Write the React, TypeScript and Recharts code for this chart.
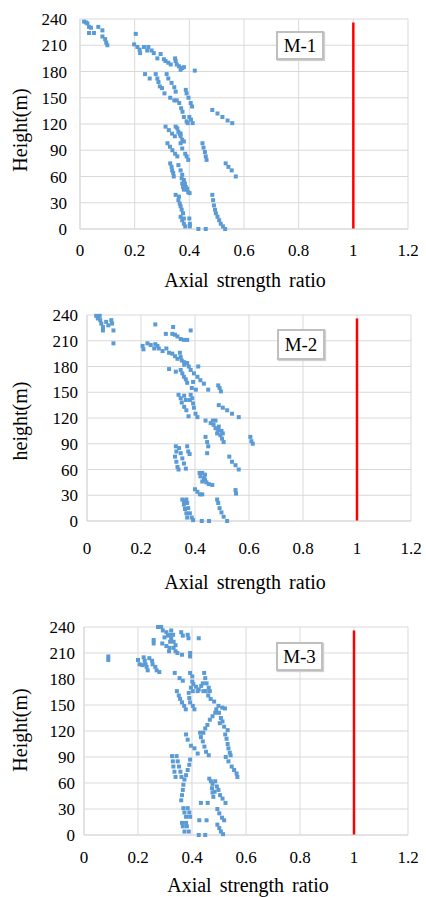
import React from "react";
import {
  CartesianGrid,
  ReferenceLine,
  Scatter,
  ScatterChart,
  XAxis,
  YAxis,
} from "recharts";

type Pt = [number, number];

// axial strength ratio vs height
const M1_POINTS: Pt[] = [
  [0.015, 237], [0.027, 235], [0.033, 231], [0.033, 224], [0.051, 224], [0.067, 231],
  [0.082, 227], [0.082, 220], [0.092, 217], [0.096, 213], [0.1, 210], [0.022, 236],
  [0.04, 230], [0.204, 223],
  [0.198, 211], [0.21, 208], [0.218, 205], [0.22, 201], [0.234, 208], [0.246, 204],
  [0.25, 208], [0.262, 204], [0.27, 201], [0.283, 195], [0.295, 200], [0.307, 194],
  [0.313, 192], [0.323, 190], [0.332, 188], [0.348, 195], [0.35, 192], [0.354, 188],
  [0.362, 186], [0.368, 182], [0.374, 184], [0.38, 185], [0.42, 181],
  [0.238, 177], [0.255, 172], [0.277, 177], [0.283, 172], [0.287, 168], [0.292, 163],
  [0.3, 161], [0.309, 155], [0.317, 177], [0.323, 172], [0.335, 167], [0.345, 162],
  [0.35, 157], [0.33, 150], [0.345, 147], [0.354, 147], [0.363, 144], [0.37, 138],
  [0.375, 134], [0.38, 128], [0.39, 123], [0.394, 121], [0.387, 159], [0.39, 155],
  [0.397, 150], [0.405, 144], [0.41, 140], [0.4, 128], [0.406, 125], [0.412, 121],
  [0.484, 136], [0.503, 132], [0.521, 128], [0.54, 124], [0.557, 121],
  [0.313, 117], [0.325, 113], [0.337, 109], [0.347, 106], [0.35, 117], [0.356, 115],
  [0.36, 111], [0.365, 109], [0.368, 106], [0.374, 102], [0.38, 100], [0.368, 109],
  [0.32, 98], [0.329, 94], [0.338, 90], [0.348, 86], [0.356, 83], [0.368, 98],
  [0.374, 92], [0.385, 86], [0.39, 83], [0.396, 79],
  [0.448, 98], [0.452, 93], [0.457, 88], [0.46, 83], [0.463, 79],
  [0.533, 75], [0.543, 71], [0.555, 67], [0.57, 60],
  [0.33, 75], [0.335, 71], [0.337, 67], [0.341, 64], [0.343, 60], [0.36, 73],
  [0.368, 67], [0.374, 62],
  [0.372, 58], [0.38, 56], [0.384, 52], [0.387, 48], [0.39, 45], [0.396, 42],
  [0.401, 41], [0.374, 52], [0.377, 48], [0.38, 45], [0.392, 46],
  [0.35, 39], [0.362, 37], [0.36, 33], [0.365, 29], [0.368, 26], [0.372, 22],
  [0.377, 18], [0.38, 12], [0.38, 6], [0.385, 3], [0.368, 14], [0.374, 10],
  [0.4, 12], [0.402, 6], [0.402, 3],
  [0.484, 39], [0.487, 33], [0.49, 27], [0.494, 22], [0.497, 18], [0.503, 14],
  [0.509, 10], [0.515, 6], [0.523, 3], [0.531, 0],
  [0.433, 0], [0.46, 0],
];

const M2_POINTS: Pt[] = [
  [0.034, 239], [0.047, 239], [0.04, 236], [0.049, 234], [0.053, 230], [0.059, 226],
  [0.059, 222], [0.071, 232], [0.079, 228], [0.09, 234], [0.093, 230], [0.098, 222],
  [0.098, 207],
  [0.253, 229], [0.319, 226], [0.292, 218], [0.316, 218], [0.326, 217], [0.335, 215],
  [0.347, 212], [0.359, 211], [0.371, 211], [0.384, 222],
  [0.206, 204], [0.209, 200], [0.224, 207], [0.236, 205], [0.253, 206], [0.249, 201],
  [0.261, 204], [0.266, 201], [0.28, 198], [0.294, 201], [0.304, 196], [0.316, 195],
  [0.326, 192], [0.335, 189], [0.344, 196], [0.347, 191], [0.351, 187], [0.36, 185],
  [0.366, 184], [0.371, 184], [0.36, 182], [0.377, 180], [0.412, 180],
  [0.304, 177], [0.329, 174], [0.347, 176], [0.353, 172], [0.359, 168], [0.366, 165],
  [0.371, 161], [0.393, 162], [0.384, 176], [0.396, 172], [0.409, 168], [0.42, 164],
  [0.433, 160], [0.449, 153], [0.388, 155], [0.403, 153], [0.486, 158], [0.491, 155],
  [0.496, 151],
  [0.339, 147], [0.347, 143], [0.351, 138], [0.36, 133], [0.368, 129], [0.376, 122],
  [0.36, 146], [0.366, 141], [0.384, 147], [0.39, 143], [0.393, 137], [0.396, 132],
  [0.402, 125], [0.409, 121], [0.381, 141],
  [0.488, 135], [0.503, 132], [0.519, 129], [0.537, 125], [0.562, 121],
  [0.439, 117], [0.458, 114], [0.466, 117], [0.476, 117], [0.469, 112], [0.476, 108],
  [0.486, 106], [0.482, 102], [0.494, 100], [0.5, 96], [0.506, 92], [0.488, 110],
  [0.498, 105], [0.503, 102],
  [0.439, 98], [0.445, 92], [0.449, 87], [0.445, 79], [0.605, 98], [0.609, 93],
  [0.614, 90],
  [0.329, 87], [0.331, 81], [0.326, 75], [0.331, 69], [0.335, 63], [0.339, 60],
  [0.341, 85], [0.347, 79], [0.353, 73], [0.359, 67], [0.366, 61], [0.371, 87],
  [0.375, 81], [0.38, 78],
  [0.527, 75], [0.537, 69], [0.55, 65], [0.562, 60],
  [0.417, 56], [0.427, 56], [0.437, 54], [0.42, 52], [0.433, 50], [0.427, 46],
  [0.442, 45], [0.451, 43], [0.464, 42], [0.437, 48],
  [0.4, 37], [0.409, 34], [0.418, 31], [0.427, 31], [0.55, 36], [0.552, 32],
  [0.353, 25], [0.359, 23], [0.359, 19], [0.363, 14], [0.368, 9], [0.371, 4],
  [0.368, 25], [0.371, 21], [0.375, 15], [0.381, 9], [0.388, 4], [0.393, 1],
  [0.482, 25], [0.486, 21], [0.491, 15], [0.498, 10], [0.506, 5], [0.519, 0],
  [0.425, 0], [0.452, 0],
];

const M3_POINTS: Pt[] = [
  [0.274, 240], [0.286, 240], [0.292, 236], [0.305, 234], [0.311, 230], [0.298, 228],
  [0.29, 221], [0.305, 218], [0.317, 216], [0.258, 225], [0.258, 221], [0.323, 236],
  [0.33, 231], [0.323, 227], [0.332, 223], [0.339, 219], [0.332, 216], [0.339, 212],
  [0.346, 210], [0.36, 234], [0.366, 230], [0.384, 231], [0.387, 227], [0.425, 227],
  [0.315, 212], [0.363, 208], [0.393, 210], [0.393, 206], [0.317, 231], [0.319, 223],
  [0.09, 206], [0.09, 202],
  [0.2, 202], [0.206, 197], [0.221, 205], [0.225, 201], [0.228, 197], [0.232, 194],
  [0.236, 190], [0.242, 204], [0.252, 201], [0.254, 197], [0.264, 194], [0.269, 190],
  [0.279, 188], [0.216, 196],
  [0.336, 187], [0.354, 181], [0.366, 178], [0.393, 187], [0.401, 183], [0.401, 177],
  [0.405, 174], [0.396, 170], [0.403, 166], [0.415, 171], [0.425, 168], [0.434, 172],
  [0.44, 175], [0.445, 187], [0.449, 181], [0.454, 175], [0.462, 170], [0.466, 166],
  [0.442, 166], [0.421, 166],
  [0.344, 166], [0.351, 161], [0.356, 157], [0.363, 153], [0.371, 149], [0.377, 145],
  [0.388, 164], [0.39, 158], [0.393, 153], [0.403, 149], [0.409, 145],
  [0.451, 166], [0.46, 161], [0.469, 157], [0.482, 154], [0.498, 149], [0.512, 147],
  [0.522, 146], [0.49, 145], [0.486, 141], [0.476, 137], [0.466, 133], [0.457, 127],
  [0.449, 123], [0.442, 118], [0.5, 141], [0.507, 135], [0.513, 131], [0.519, 125],
  [0.532, 121], [0.503, 129],
  [0.378, 116], [0.384, 110], [0.396, 103], [0.409, 100], [0.421, 94], [0.43, 118],
  [0.433, 113], [0.44, 108], [0.446, 102], [0.452, 96], [0.462, 92],
  [0.523, 116], [0.528, 111], [0.532, 105], [0.535, 100], [0.54, 95], [0.543, 92],
  [0.525, 90], [0.535, 85], [0.547, 79], [0.556, 75], [0.565, 71], [0.568, 67],
  [0.326, 91], [0.329, 85], [0.331, 79], [0.335, 73], [0.339, 67], [0.343, 91],
  [0.347, 85], [0.352, 79], [0.357, 73], [0.361, 67], [0.393, 87], [0.39, 81],
  [0.384, 75], [0.378, 69], [0.372, 64], [0.368, 58], [0.366, 52], [0.363, 46],
  [0.36, 40],
  [0.464, 65], [0.47, 62], [0.476, 59], [0.474, 54], [0.476, 49], [0.479, 44],
  [0.486, 62], [0.492, 56], [0.498, 52], [0.504, 46], [0.513, 42], [0.524, 37],
  [0.484, 50],
  [0.433, 37], [0.458, 37],
  [0.368, 31], [0.372, 26], [0.378, 21], [0.384, 31], [0.39, 26], [0.393, 21],
  [0.494, 30], [0.501, 25], [0.511, 20], [0.519, 17],
  [0.427, 17], [0.454, 17],
  [0.363, 14], [0.366, 10], [0.372, 4], [0.378, 14], [0.381, 10], [0.388, 4],
  [0.494, 12], [0.501, 8], [0.507, 4], [0.515, 1],
  [0.425, 0], [0.449, 0],
];

const X_TICKS = [0, 0.2, 0.4, 0.6, 0.8, 1, 1.2];
const Y_TICKS = [0, 30, 60, 90, 120, 150, 180, 210, 240];
const LIMIT_LINE: Pt[] = [[1, 0], [1, 236]];

const FONT = '"Liberation Serif", "Times New Roman", serif';
const DOT = "#5b9bd5";
const GRID = "#d9d9d9";

function Square(props: any) {
  const { cx, cy } = props;
  if (cx == null || cy == null) return null;
  return <rect x={cx - 2} y={cy - 2} width={4} height={4} fill={DOT} />;
}

type PanelProps = {
  top: number;
  height: number;
  points: Pt[];
  name: string;
  yTitle: string;
  plot: { left: number; right: number; top: number; bottom: number };
  yGap: number;
  xGap: number;
  xTitleY: number;
  xTitleX: number;
  yTitleY: number;
  box: { left: number; top: number; width: number; height: number };
};

function Panel(p: PanelProps) {
  const data = p.points.map(([x, y]) => ({ x, y }));
  const tickStyle = { fill: "#000", fontSize: 17, fontFamily: FONT };
  return (
    <div style={{ position: "absolute", left: 0, top: p.top, width: 426, height: p.height }}>
      <ScatterChart
        width={426}
        height={p.height}
        margin={{ top: p.plot.top, right: 426 - p.plot.right, left: 0, bottom: 0 }}
      >
        <CartesianGrid stroke={GRID} strokeWidth={1} />
        <XAxis
          type="number"
          dataKey="x"
          domain={[0, 1.2]}
          ticks={X_TICKS}
          interval={0}
          height={p.height - p.plot.bottom}
          tickLine={false}
          tickSize={0}
          tickMargin={p.xGap}
          axisLine={{ stroke: GRID }}
          tick={tickStyle}
          tickFormatter={(v: number) => String(v)}
        />
        <YAxis
          type="number"
          dataKey="y"
          domain={[0, 240]}
          ticks={Y_TICKS}
          interval={0}
          width={p.plot.left}
          tickLine={false}
          tickSize={0}
          tickMargin={p.yGap}
          axisLine={{ stroke: GRID }}
          tick={tickStyle}
        />
        <ReferenceLine
          segment={LIMIT_LINE.map(([x, y]) => ({ x, y }))}
          stroke="#ff0000"
          strokeWidth={2.5}
        />
        <Scatter data={data} shape={<Square />} isAnimationActive={false} />
      </ScatterChart>
      <div
        style={{
          position: "absolute",
          left: p.box.left,
          top: p.box.top,
          width: p.box.width,
          height: p.box.height,
          boxSizing: "border-box",
          border: "2px solid #bfbfbf",
          boxShadow: "1px 1px 1px #d0d0d0",
          background: "#fff",
          display: "flex",
          alignItems: "center",
          justifyContent: "center",
          fontFamily: FONT,
          fontSize: 19,
          color: "#000",
        }}
      >
        {p.name}
      </div>
      <div
        style={{
          position: "absolute",
          left: p.xTitleX,
          top: p.xTitleY,
          transform: "translate(-50%, -50%)",
          whiteSpace: "nowrap",
          fontFamily: FONT,
          fontSize: 20,
          color: "#000",
          wordSpacing: 3,
        }}
      >
        Axial strength ratio
      </div>
      <div
        style={{
          position: "absolute",
          left: 20,
          top: p.yTitleY,
          transform: "translate(-50%, -50%) rotate(-90deg)",
          whiteSpace: "nowrap",
          fontFamily: FONT,
          fontSize: 20,
          color: "#000",
        }}
      >
        {p.yTitle}
      </div>
    </div>
  );
}

export default function App() {
  return (
    <div
      style={{
        position: "absolute",
        left: 0,
        top: 0,
        width: 426,
        height: 897,
        background: "#fff",
      }}
    >
      <Panel
        top={0}
        height={300}
        points={M1_POINTS}
        name="M-1"
        yTitle="Height(m)"
        plot={{ left: 80, right: 408, top: 19, bottom: 229 }}
        yGap={13}
        xGap={15}
        xTitleX={245}
        xTitleY={280}
        yTitleY={130}
        box={{ left: 276, top: 31, width: 48, height: 29 }}
      />
      <Panel
        top={300}
        height={300}
        points={M2_POINTS}
        name="M-2"
        yTitle="height(m)"
        plot={{ left: 87, right: 411, top: 15, bottom: 221 }}
        yGap={9}
        xGap={21}
        xTitleX={245}
        xTitleY={282}
        yTitleY={121}
        box={{ left: 277, top: 29, width: 48, height: 31 }}
      />
      <Panel
        top={600}
        height={297}
        points={M3_POINTS}
        name="M-3"
        yTitle="Height(m)"
        plot={{ left: 84, right: 408, top: 27, bottom: 235 }}
        yGap={9}
        xGap={16}
        xTitleX={248}
        xTitleY={285}
        yTitleY={130}
        box={{ left: 276, top: 42, width: 47, height: 29 }}
      />
    </div>
  );
}
